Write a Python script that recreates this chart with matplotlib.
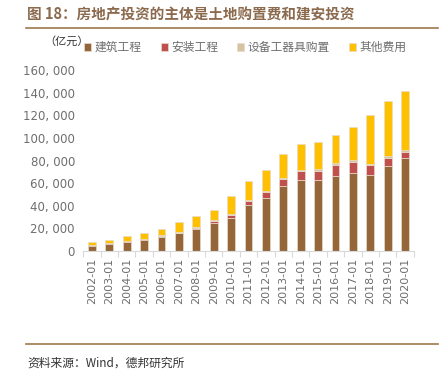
import matplotlib
matplotlib.use("Agg")
import matplotlib.pyplot as plt
import numpy as np
from matplotlib.ticker import FuncFormatter

plt.rcParams['font.family'] = ['Noto Sans CJK SC', 'DejaVu Sans']

years = ["2002-01", "2003-01", "2004-01", "2005-01", "2006-01", "2007-01", "2008-01",
         "2009-01", "2010-01", "2011-01", "2012-01", "2013-01", "2014-01", "2015-01",
         "2016-01", "2017-01", "2018-01", "2019-01", "2020-01"]
jianzhu = [4800, 6500, 8300, 10100, 12700, 15600, 19200, 24800, 29500, 41100,
           47300, 57500, 63200, 63200, 66400, 69400, 67300, 75200, 82300]
anzhuang = [300, 400, 500, 600, 800, 700, 1200, 1600, 2100, 3200,
            4900, 6200, 7600, 7800, 9400, 9100, 8500, 6800, 5300]
shebei = [150, 200, 250, 300, 400, 400, 800, 900, 900, 800,
          900, 1300, 1200, 1200, 2100, 1800, 1500, 2000, 1800]
qita = [2500, 3050, 4100, 4900, 5500, 8600, 10000, 8900, 15760, 16700,
        18700, 21000, 23000, 23800, 24700, 29500, 43000, 48200, 52000]

series = [("建筑工程", jianzhu, "#946639"),
          ("安装工程", anzhuang, "#C0504D"),
          ("设备工器具购置", shebei, "#D8C3A0"),
          ("其他费用", qita, "#FFC000")]

fig = plt.figure(figsize=(4.45, 3.72), dpi=100)
ax = fig.add_axes([0.187, 0.325, 0.743, 0.487])

x = np.arange(len(years))
bottom = np.zeros(len(years))
handles = []
for name, vals, col in series:
    v = np.array(vals, dtype=float)
    h = ax.bar(x, v, 0.45, bottom=bottom, color=col, edgecolor="#E8DCCB",
               linewidth=0.5, label=name)
    handles.append(h)
    bottom += v

ax.set_ylim(0, 160000)
ax.set_xlim(-0.5, len(years) - 0.5)
ax.set_yticks(np.arange(0, 160001, 20000))
ax.yaxis.set_major_formatter(FuncFormatter(lambda v, p: "0" if v == 0 else f"{int(v):,}".replace(",", ", ")))
ax.set_xticks(x)
ax.set_xticklabels(years, rotation=90, fontsize=8, color="#6E6E6E", family=['DejaVu Sans'])
ax.tick_params(axis='x', length=0, pad=5)
ax.set_xticks(np.arange(-0.5, len(years), 1), minor=True)
ax.tick_params(axis='x', which='minor', length=4, color="#D9D9D9", width=0.8)
ax.tick_params(axis='y', length=0, labelsize=8.5, labelcolor="#6E6E6E", pad=6)
for lab in ax.get_yticklabels():
    lab.set_family(['DejaVu Sans'])
for s in ["top", "right", "left"]:
    ax.spines[s].set_visible(False)
ax.spines["bottom"].set_color("#D9D9D9")
ax.spines["bottom"].set_linewidth(0.8)

fig.text(0.061, 0.96, "图 18：房地产投资的主体是土地购置费和建安投资", fontsize=10.5,
         color="#8B6A4E", fontweight="bold", va="center", ha="left")
fig.add_artist(plt.Line2D([0.058, 0.985], [0.925, 0.925], color="#A0784E", linewidth=1.2))
fig.text(0.10, 0.888, "（亿元）", fontsize=8, color="#333333", va="center", ha="left")

leg = fig.legend(handles=handles, loc="center left", bbox_to_anchor=(0.165, 0.872),
                 ncol=4, frameon=False, fontsize=8.5, handlelength=0.6, handleheight=0.6,
                 handletextpad=0.3, columnspacing=1.6, labelcolor="#6E6E6E")

fig.add_artist(plt.Line2D([0.058, 0.985], [0.075, 0.075], color="#A0784E", linewidth=1.2))
fig.text(0.061, 0.025, "资料来源：Wind，德邦研究所", fontsize=8.5, color="#333333",
         va="center", ha="left")

fig.savefig("out.png", dpi=100)
